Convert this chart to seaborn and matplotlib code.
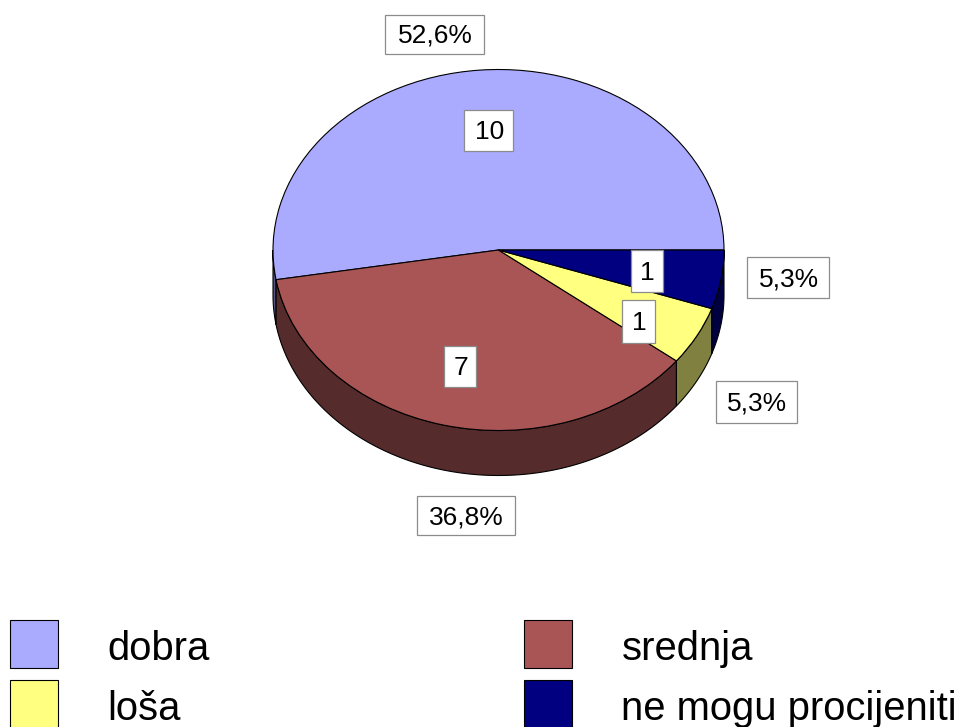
import numpy as np
import matplotlib
matplotlib.use('Agg')
import matplotlib.pyplot as plt
import seaborn as sns

categories = ['dobra', 'srednja', 'loša', 'ne mogu procijeniti']
counts = [10, 7, 1, 1]
percents = ['52,6%', '36,8%', '5,3%', '5,3%']
top_colors = ['#AAAAFF', '#AA5555', '#FFFF80', '#000080']
side_colors = ['#555580', '#552B2B', '#808040', '#000040']

# label boxes in pixels (left, top, right, bottom), y measured from the top
count_boxes = [(464, 110, 513, 151), (444, 346, 476, 387), (622, 300, 655, 343), (631, 250, 663, 292)]
percent_boxes = [(385, 15, 484, 54), (417, 496, 515, 535), (716, 381, 797, 423), (747, 257, 829, 298)]

W, H = 964, 727
CX, CY, RX, RY, DEPTH = 498.5, 250, 225.5, 180.5, 45

sns.set_theme(style='white')
plt.rcParams['font.family'] = ['Liberation Sans', 'DejaVu Sans']
palette = sns.color_palette(top_colors)

fig = plt.figure(figsize=(W / 100, H / 100), dpi=100, facecolor='white')

# pie axes: unit circle maps onto the ellipse of the tilted pie
ax = fig.add_axes([0, 0, 1, 1])
depth = DEPTH / RY

wedges, _ = ax.pie(counts, colors=palette, startangle=0, counterclock=True,
                   wedgeprops={'edgecolor': 'black', 'linewidth': 0.8, 'zorder': 3})
ax.set_aspect('auto')
ax.set_xlim(-CX / RX, (W - CX) / RX)
ax.set_ylim((CY - H) / RY, CY / RY)
ax.axis('off')

# side walls of the front half
edges = np.cumsum([0] + counts) / sum(counts) * 360
for i in range(len(counts)):
  a0, a1 = max(edges[i], 180), edges[i + 1]
  if a1 <= a0:
    continue
  t = np.radians(np.linspace(a0, a1, 120))
  xs = np.r_[np.cos(t), np.cos(t[::-1])]
  ys = np.r_[np.sin(t), np.sin(t[::-1]) - depth]
  ax.fill(xs, ys, facecolor=side_colors[i], edgecolor='black', linewidth=0.8, zorder=2)

# overlay in pixels for the labels and the legend
over = fig.add_axes([0, 0, 1, 1], facecolor='none')
over.set_xlim(0, W)
over.set_ylim(H, 0)
over.axis('off')


def put_label(text, box):
  x0, y0, x1, y1 = box
  over.add_patch(plt.Rectangle((x0, y0), x1 - x0, y1 - y0, facecolor='white',
                               edgecolor='#8C8C8C', linewidth=0.9))
  over.text((x0 + x1) / 2 + 0.8, (y0 + y1) / 2 + 8.5, text, fontsize=19, color='black',
            ha='center', va='baseline')


for c, box in zip(counts, count_boxes):
  put_label(str(c), box)
for p, box in zip(percents, percent_boxes):
  put_label(p, box)

handles = [plt.Rectangle((0, 0), 1, 1, facecolor=col, edgecolor='black', linewidth=0.8)
           for col in top_colors]
# column order fills downward, so swap to get dobra/srednja on the first row
order = [0, 2, 1, 3]
leg = over.legend([handles[i] for i in order], [categories[i] for i in order],
                  ncol=2, loc='upper left', bbox_to_anchor=(10 / W, 1 - 620 / H),
                  bbox_transform=fig.transFigure, frameon=False, fontsize=28.8, labelcolor='black',
                  borderpad=0, borderaxespad=0, handlelength=1.2, handleheight=1.47,
                  handletextpad=1.2, labelspacing=0.3, columnspacing=7.9)
# legend text sits a little lower than the default baseline
for txt in leg.get_texts():
  txt.set_position((1, -2.5))

fig.savefig('out.png', dpi=100)
